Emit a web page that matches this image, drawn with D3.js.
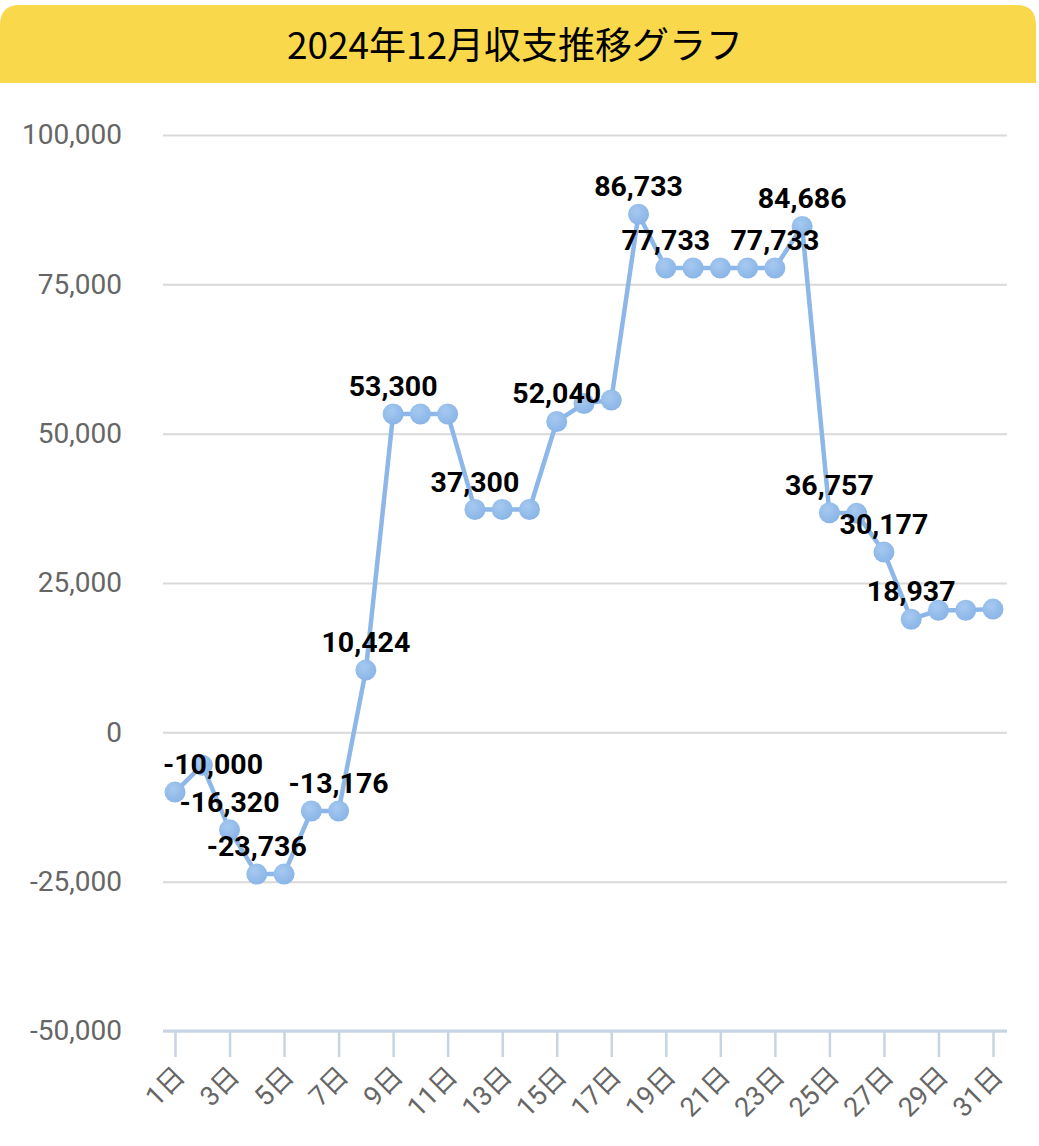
<!DOCTYPE html>
<html>
<head>
<meta charset="utf-8">
<script src="https://cdn.jsdelivr.net/npm/d3@7/dist/d3.min.js"></script>
<style>
  html, body { margin: 0; padding: 0; background: #fff; }
  svg { display: block; }
</style>
</head>
<body>
<svg id="chart" width="1039" height="1146"></svg>
<script>
// ---- data ----
const title = "2024年12月収支推移グラフ";
const days = d3.range(1, 32);
const balance = [
  -10000, -5500, -16320, -23736, -23736, -13176, -13176, 10424,
  53300, 53300, 53300, 37300, 37300, 37300, 52040, 55040, 55640,
  86733, 77733, 77733, 77733, 77733, 77733, 84686, 36757, 36657,
  30177, 18937, 20437, 20437, 20637
];
const labelDays = [1, 3, 4, 7, 8, 9, 12, 15, 18, 19, 23, 24, 25, 27, 28];
const yTicks = [-50000, -25000, 0, 25000, 50000, 75000, 100000];
const xTickDays = days.filter(d => d % 2 === 1);

// ---- layout ----
const svg = d3.select("#chart");
const plot = { left: 163, right: 1007, top: 135, bottom: 1031 };
const fmt = v => d3.format(",")(v).replace("\u2212", "-");

// title banner
svg.append("path")
  .attr("d", (() => {
    const x0 = 0, x1 = 1036, y0 = 5, y1 = 83, r = 20;
    return `M${x0},${y1} L${x0},${y0 + r} Q${x0},${y0} ${x0 + r},${y0} L${x1 - r},${y0} Q${x1},${y0} ${x1},${y0 + r} L${x1},${y1} Z`;
  })())
  .attr("fill", "#F9D84B");
svg.append("text")
  .attr("x", 515).attr("y", 59)
  .attr("text-anchor", "middle")
  .attr("font-family", "'Noto Sans CJK JP', sans-serif")
  .attr("font-size", 37)
  .attr("fill", "#000")
  .text(title);

const x = d3.scaleLinear().domain([1, 31]).range([175, 993]);
const y = d3.scaleLinear().domain([-50000, 100000]).range([plot.bottom, plot.top]);

// y axis + grid
const yAxis = d3.axisLeft(y)
  .tickValues(yTicks)
  .tickSize(-(plot.right - plot.left))
  .tickPadding(41)
  .tickFormat(fmt);
const gy = svg.append("g")
  .attr("transform", `translate(${plot.left},0)`)
  .call(yAxis);
gy.select(".domain").remove();
gy.selectAll(".tick line")
  .attr("stroke", "#d9d9d9")
  .attr("stroke-width", 2);
gy.selectAll(".tick text")
  .attr("font-family", "Roboto, sans-serif")
  .attr("font-size", 28)
  .attr("fill", "#666");

// x axis
const xAxis = d3.axisBottom(x)
  .tickValues(xTickDays)
  .tickSize(26)
  .tickSizeOuter(0)
  .tickFormat(d => d + "日");
const gx = svg.append("g")
  .attr("transform", `translate(0,${plot.bottom})`)
  .call(xAxis);
gx.select(".domain")
  .attr("d", `M${plot.left},0H${plot.right}`)
  .attr("stroke", "#c6d4e3")
  .attr("stroke-width", 3);
gx.selectAll(".tick line")
  .attr("stroke", "#c6d4e3")
  .attr("stroke-width", 2.5);
gx.selectAll(".tick text")
  .attr("font-family", "Roboto, 'Noto Sans CJK JP', sans-serif")
  .attr("font-size", 27)
  .attr("fill", "#666")
  .attr("text-anchor", "end")
  .attr("dy", null)
  .attr("y", null)
  .attr("transform", "translate(11,47) rotate(-45)");

// line
const pts = days.map((d, i) => ({ day: d, v: balance[i] }));
svg.append("path")
  .datum(pts)
  .attr("fill", "none")
  .attr("stroke", "#8db7e8")
  .attr("stroke-width", 4.5)
  .attr("d", d3.line().x(p => x(p.day)).y(p => y(p.v)));

// dots
const defs = svg.append("defs");
const grad = defs.append("radialGradient").attr("id", "dotg")
  .attr("cx", "40%").attr("cy", "35%").attr("r", "65%");
grad.append("stop").attr("offset", "0%").attr("stop-color", "#a6c9f0");
grad.append("stop").attr("offset", "100%").attr("stop-color", "#8ab5e7");
svg.append("g").selectAll("circle")
  .data(pts).join("circle")
  .attr("cx", p => x(p.day))
  .attr("cy", p => y(p.v))
  .attr("r", 10.5)
  .attr("fill", "url(#dotg)");

// data labels
const lg = svg.append("g")
  .attr("font-family", "Roboto, sans-serif")
  .attr("font-weight", "bold")
  .attr("font-size", 28.5)
  .attr("fill", "#000")
  .attr("text-anchor", "middle");
labelDays.forEach(d => {
  const p = pts[d - 1];
  const t = lg.append("text")
    .attr("x", x(p.day))
    .attr("y", y(p.v) - 18)
    .text(fmt(p.v));
  const bb = t.node().getBBox();
  if (bb.x < plot.left) t.attr("x", x(p.day) + (plot.left - bb.x));
});
</script>
</body>
</html>
